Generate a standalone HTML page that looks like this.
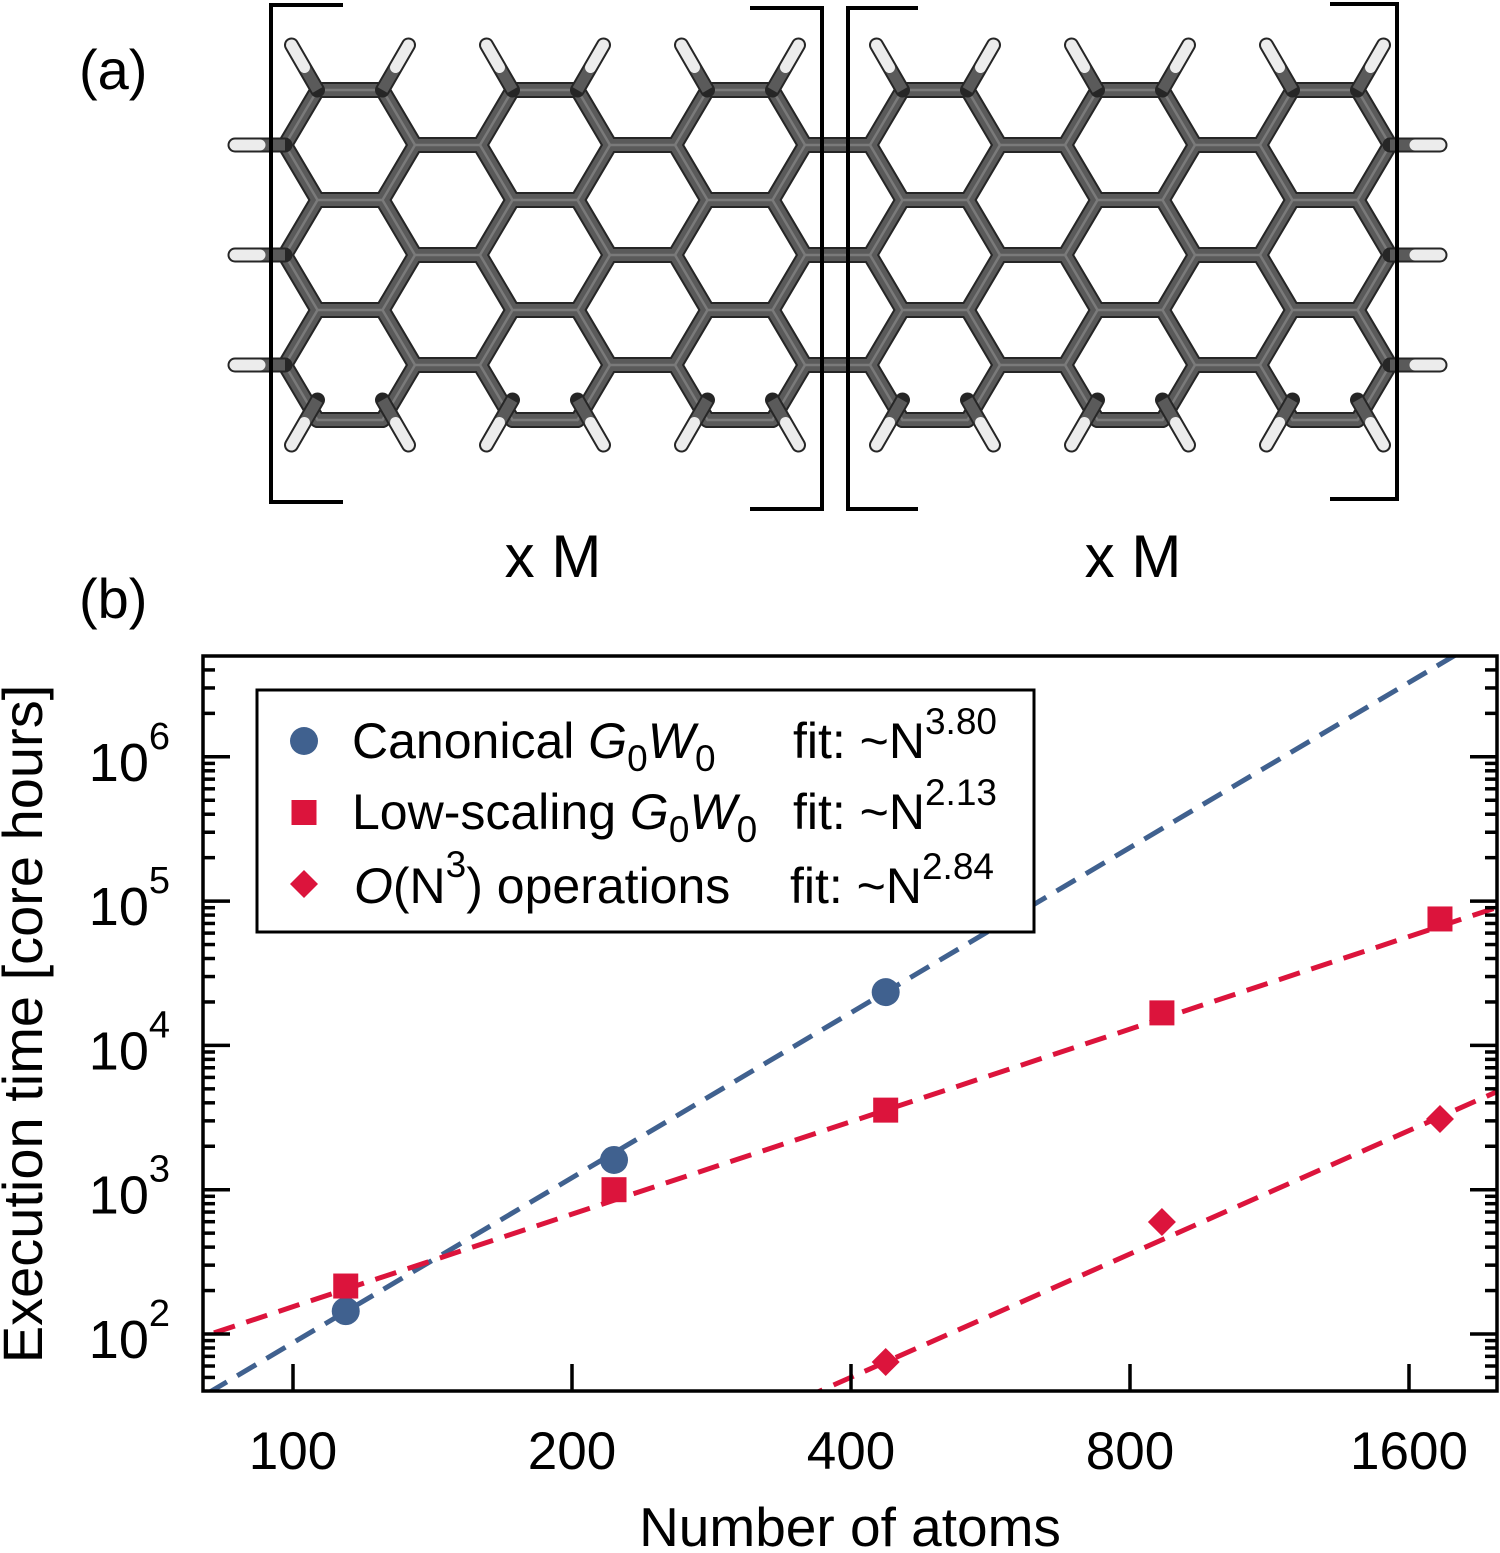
<!DOCTYPE html>
<html><head><meta charset="utf-8"><style>
html,body{margin:0;padding:0;background:#fff;overflow:hidden;width:1500px;height:1553px;}
svg{display:block;font-family:"Liberation Sans",Arial,sans-serif;}
</style></head><body>
<svg id="fig" width="1500" height="1553" viewBox="0 0 1500 1553" xmlns="http://www.w3.org/2000/svg">
<defs><clipPath id="plotclip"><rect x="203" y="656" width="1294" height="735"/></clipPath></defs>
<g id="molecule"></g>
<g id="brackets" fill="none" stroke="#000" stroke-width="4">
<path d="M343,5 H271 V502 H343"/>
<path d="M750,8 H822 V509 H750"/>
<path d="M918,8 H848 V509 H918"/>
<path d="M1330,4 H1397 V499 H1330"/>
</g>
<text x="79" y="89" font-size="56">(a)</text>
<text x="79" y="618" font-size="56">(b)</text>
<text x="553" y="577" font-size="60" text-anchor="middle">x M</text>
<text x="1133" y="577" font-size="60" text-anchor="middle">x M</text>

<g id="chart"></g>
</svg>
<script>
// ---- chart data ----
const canonicalN = [114, 222, 436];
const canonicalT = [144, 1607, 23400];
const lowN = [114, 222, 436, 866, 1728];
const lowT = [215, 1000, 3560, 16800, 75200];
const cubicN = [436, 866, 1728];
const cubicT = [64, 597, 3090];
const fitExponents = [3.80, 2.13, 2.84];
const fitAnchorN = [436, 436, 436];
const fitAnchorT = [23400, 3560, 64];
const xTicks = [100, 200, 400, 800, 1600];
const yTickExps = [2, 3, 4, 5, 6];

const NS = "http://www.w3.org/2000/svg";
function mk(tag, attrs, parent){const e=document.createElementNS(NS,tag);for(const k in attrs)e.setAttribute(k,attrs[k]);parent.appendChild(e);return e;}

// ---- molecule ----
const mol = document.getElementById('molecule');
const E = 65, HH = 55;
const bonds = new Map();
function addBond(a,b){const k=[a,b].map(p=>p[0].toFixed(1)+','+p[1].toFixed(1)).sort().join('|');if(!bonds.has(k))bonds.set(k,[a,b]);}
function hex(cx,cy){const v=[[cx-E,cy],[cx-E/2,cy-HH],[cx+E/2,cy-HH],[cx+E,cy],[cx+E/2,cy+HH],[cx-E/2,cy+HH]];for(let i=0;i<6;i++)addBond(v[i],v[(i+1)%6]);}
const hbonds=[];
for(let u=0;u<2;u++){
  const off=585*u;
  for(let k=0;k<3;k++)for(let j=0;j<3;j++)hex(350+195*k+off,145+110*j);
  for(let k=0;k<2;k++)for(let j=0;j<2;j++)hex(447.5+195*k+off,200+110*j);
  for(let k=0;k<3;k++){
    const cx=350+195*k+off;
    hbonds.push([[cx-E/2,90],[cx-E/2-26,90-45]]);
    hbonds.push([[cx+E/2,90],[cx+E/2+26,90-45]]);
    hbonds.push([[cx-E/2,400],[cx-E/2-26,400+45]]);
    hbonds.push([[cx+E/2,400],[cx+E/2+26,400+45]]);
  }
}
for(let j=0;j<3;j++){
  const y=145+110*j;
  addBond([805,y],[870,y]);
  hbonds.push([[285,y],[235,y]]);
  hbonds.push([[1390,y],[1440,y]]);
}
const bl=[...bonds.values()];
[['#262626',16],['#5a5a5a',12],['#7a7a7a',2.5]].forEach(([c,w])=>{
  bl.forEach(([a,b])=>{const l=mk('line',{x1:a[0],y1:a[1],x2:b[0],y2:b[1],stroke:c,'stroke-width':w,'stroke-linecap':'round'},mol);
  
  });
});
hbonds.forEach(([a,b])=>{
  const m=[(a[0]+b[0])/2,(a[1]+b[1])/2];
  const o=mk('line',{x1:a[0],y1:a[1],x2:b[0],y2:b[1],stroke:'#262626','stroke-width':15,'stroke-linecap':'round'},mol);
  
  
  const g=mk('line',{x1:a[0],y1:a[1],x2:m[0],y2:m[1],stroke:'#5a5a5a','stroke-width':11},mol);
  
  
  const w=mk('line',{x1:m[0],y1:m[1],x2:b[0],y2:b[1],stroke:'#ececec','stroke-width':11,'stroke-linecap':'round'},mol);
  
  
});

// ---- chart ----
const chart=document.getElementById('chart');
const X0=203,X1=1497,Y0=656,Y1=1391;
const xs=N=>293+279*Math.log2(N/100);
const ys=v=>1334-(Math.log10(v)-2)*144.3;
const BLUE='#40618f', RED='#dc143c';

const fitColors=[BLUE,RED,RED];
const fitNames=['canonical-fit-line','low-scaling-fit-line','cubic-ops-fit-line'];
const lg=mk('g',{'clip-path':'url(#plotclip)'},chart);


for(let i=0;i<3;i++){
  const f=N=>fitAnchorT[i]*Math.pow(N/fitAnchorN[i],fitExponents[i]);
  const l=mk('line',{x1:xs(70),y1:ys(f(70)),x2:xs(2100),y2:ys(f(2100)),stroke:fitColors[i],'stroke-width':5,'stroke-dasharray':'22 12'},lg);
  
  
}
canonicalN.forEach((n,i)=>{const c=mk('circle',{cx:xs(n),cy:ys(canonicalT[i]),r:14,fill:BLUE},chart);
  
  });
lowN.forEach((n,i)=>{const r=mk('rect',{x:xs(n)-12.5,y:ys(lowT[i])-12.5,width:25,height:25,fill:RED},chart);
  
  });
cubicN.forEach((n,i)=>{const x=xs(n),y=ys(cubicT[i]);const p=mk('polygon',{points:`${x},${y-14} ${x+14},${y} ${x},${y+14} ${x-14},${y}`,fill:RED},chart);
  
  });

const fr=mk('rect',{x:X0,y:Y0,width:X1-X0,height:Y1-Y0,fill:'none',stroke:'#000','stroke-width':3.5},chart);



for(let e=1;e<=6;e++){
  for(let m=1;m<=9;m++){
    const v=m*Math.pow(10,e), y=ys(v);
    if(y<Y0||y>Y1)continue;
    const len=m===1?27:12;
    const t1=mk('line',{x1:X0,y1:y,x2:X0+len,y2:y,stroke:'#000','stroke-width':3.5},chart);
    
    
    const t2=mk('line',{x1:X1-len,y1:y,x2:X1,y2:y,stroke:'#000','stroke-width':3.5},chart);
    
    
  }
}
yTickExps.forEach(e=>{
  const y=ys(Math.pow(10,e));
  const t=mk('text',{x:170,y:y+24,'font-size':54,'text-anchor':'end'},chart);
  
  
  t.appendChild(document.createTextNode('10'));
  const s=mk('tspan',{'font-size':38,dy:-32},t);s.textContent=String(e);
});
xTicks.forEach(n=>{
  const x=xs(n);
  const t=mk('line',{x1:x,y1:Y1,x2:x,y2:Y1-27,stroke:'#000','stroke-width':3.5},chart);
  
  
  const l=mk('text',{x:x,y:1469,'font-size':53,'text-anchor':'middle'},chart);
  
  
  l.textContent=String(n);
});
</script>
<script>
const fig=document.getElementById('fig');
const NS2="http://www.w3.org/2000/svg";
const extra=`
<text x="850" y="1546" font-size="55" text-anchor="middle">Number of atoms</text>
<text transform="translate(42,1024) rotate(-90)" font-size="56" text-anchor="middle">Execution time [core hours]</text>
<g>
<rect x="257" y="690" width="777" height="242" fill="#fff" stroke="#000" stroke-width="3"/>
<circle cx="304" cy="741" r="14" fill="#40618f"/>
<rect x="291.5" y="800" width="25" height="25" fill="#dc143c"/>
<polygon points="304,870 318,884 304,898 290,884" fill="#dc143c"/>
<text x="352" y="758" font-size="50">Canonical <tspan font-style="italic">G</tspan><tspan font-size="37" dy="13">0</tspan><tspan font-style="italic" dy="-13">W</tspan><tspan font-size="37" dy="13">0</tspan></text>
<text x="352" y="829" font-size="50">Low-scaling <tspan font-style="italic">G</tspan><tspan font-size="37" dy="13">0</tspan><tspan font-style="italic" dy="-13">W</tspan><tspan font-size="37" dy="13">0</tspan></text>
<text x="354" y="903" font-size="50"><tspan font-style="italic">O</tspan>(N<tspan font-size="37" dy="-26">3</tspan><tspan dy="26">) operations</tspan></text>
<text x="793" y="758" font-size="50">fit: ~N<tspan font-size="37" dy="-24">3.80</tspan></text>
<text x="793" y="829" font-size="50">fit: ~N<tspan font-size="37" dy="-24">2.13</tspan></text>
<text x="790" y="903" font-size="50">fit: ~N<tspan font-size="37" dy="-24">2.84</tspan></text>
</g>`;
const tmp=document.createElementNS(NS2,'g');


tmp.innerHTML=extra;
fig.appendChild(tmp);
</script>
</body></html>
